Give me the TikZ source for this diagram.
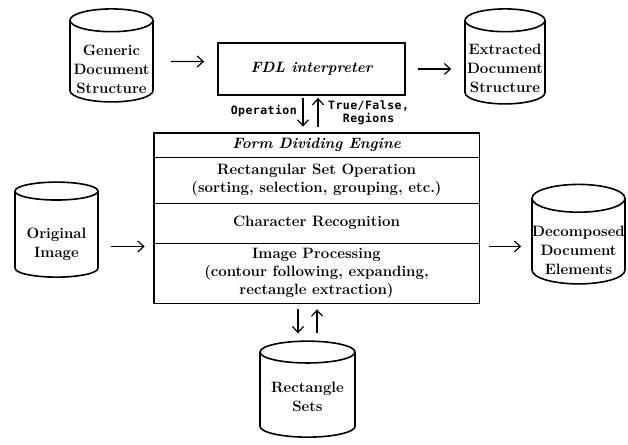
\documentclass[tikz,border=0pt]{standalone}
\usepackage{fontspec}
\newfontfamily\labelfont[LetterSpace=4]{DejaVu Sans Mono}
\usetikzlibrary{shapes.geometric,fit,arrows.meta}
% text of a data store, lowered below the top ellipse
\newcommand{\dbtext}[2]{\raisebox{-#1}[\height][\depth]{%
    \begin{tabular}{@{}c@{}}#2\end{tabular}}}
\begin{document}
\begin{tikzpicture}[x=1pt, y=-1pt,
    db/.style={draw, line width=1.6pt, cylinder, shape border rotate=90,
      aspect=0.3, inner sep=0pt,
      font=\fontsize{15}{19}\selectfont\bfseries},
    part/.style={draw, line width=0.9pt, minimum width=325, inner sep=0pt,
      align=center, font=\fontsize{15}{18}\selectfont\bfseries},
    flow/.style={-{Straight Barb[length=6pt,width=11pt]}, line width=1.2pt},
    note/.style={font=\labelfont\bfseries\fontsize{11.5}{12.5}\selectfont,
      align=center, inner sep=0pt}]
  \useasboundingbox (0,0) rectangle (628,444);

  % data stores
  \node[db, minimum width=83, minimum height=93] (gen) at (111.5,61.5)
    {\dbtext{9pt}{Generic\\Document\\Structure}};
  \node[db, minimum width=80, minimum height=95] (ext) at (505,62.5)
    {\dbtext{7pt}{Extracted\\Document\\Structure}};
  \node[db, minimum width=83, minimum height=95] (orig) at (56.5,234.5)
    {\dbtext{10pt}{Original\\Image}};
  \node[db, minimum width=93, minimum height=97] (dec) at (578.5,241.5)
    {\dbtext{10pt}{Decomposed\\Document\\Elements}};
  \node[db, minimum width=95, minimum height=96] (rect) at (307.5,395)
    {\dbtext{3pt}{Rectangle\\Sets}};

  % interpreter and engine
  \node[draw, line width=1.8pt, minimum width=187, minimum height=52,
    font=\fontsize{15}{18}\selectfont\bfseries\itshape] (fdl) at (311.5,69)
    {FDL interpreter};
  \node[part, minimum height=24] (title) at (316.5,145)
    {\itshape Form Dividing Engine};
  \node[part, minimum height=46] (rso) at (316.5,180)
    {Rectangular Set Operation\\(sorting, selection, grouping, etc.)};
  \node[part, minimum height=40] (chr) at (316.5,223)
    {Character Recognition};
  \node[part, minimum height=60] (imgp) at (316.5,273)
    {Image Processing\\(contour following, expanding,\\rectangle extraction)};
  \node[draw, line width=1.8pt, inner sep=0pt, fit=(title)(imgp)] (eng) {};

  % flows
  \draw[flow, shorten <=17pt, shorten >=13pt] (gen) -- (gen -| fdl.west);
  \draw[flow, shorten <=12pt, shorten >=13pt] (fdl) -- (fdl -| ext.west);
  \draw[flow, shorten <=12pt, shorten >=8pt] ([yshift=-3pt]orig.east |- chr.south) -- ([yshift=-3pt]eng.west |- chr.south);
  \draw[flow, shorten <=9pt, shorten >=10pt] ([yshift=-3pt]eng.east |- chr.south) -- ([yshift=-3pt]dec.west |- chr.south);
  \draw[flow, shorten <=2pt, shorten >=5pt] ([xshift=-8.5pt]fdl.south) -- ([xshift=-8.5pt]fdl.south |- eng.north);
  \draw[flow, shorten <=5pt, shorten >=2pt] ([xshift=6.5pt]fdl.south |- eng.north) -- ([xshift=6.5pt]fdl.south);
  \draw[flow, shorten <=5pt, shorten >=7pt] ([xshift=-9.5pt]rect.north |- eng.south) -- ([xshift=-9.5pt]rect.north);
  \draw[flow, shorten <=7pt, shorten >=5pt] ([xshift=9.5pt]rect.north) -- ([xshift=9.5pt]rect.north |- eng.south);

  \node[note, anchor=east] (op) at (297,111) {Operation};
  \node[note, anchor=west] (tf) at (328,113) {True/False,\\Regions};
\end{tikzpicture}
\end{document}
